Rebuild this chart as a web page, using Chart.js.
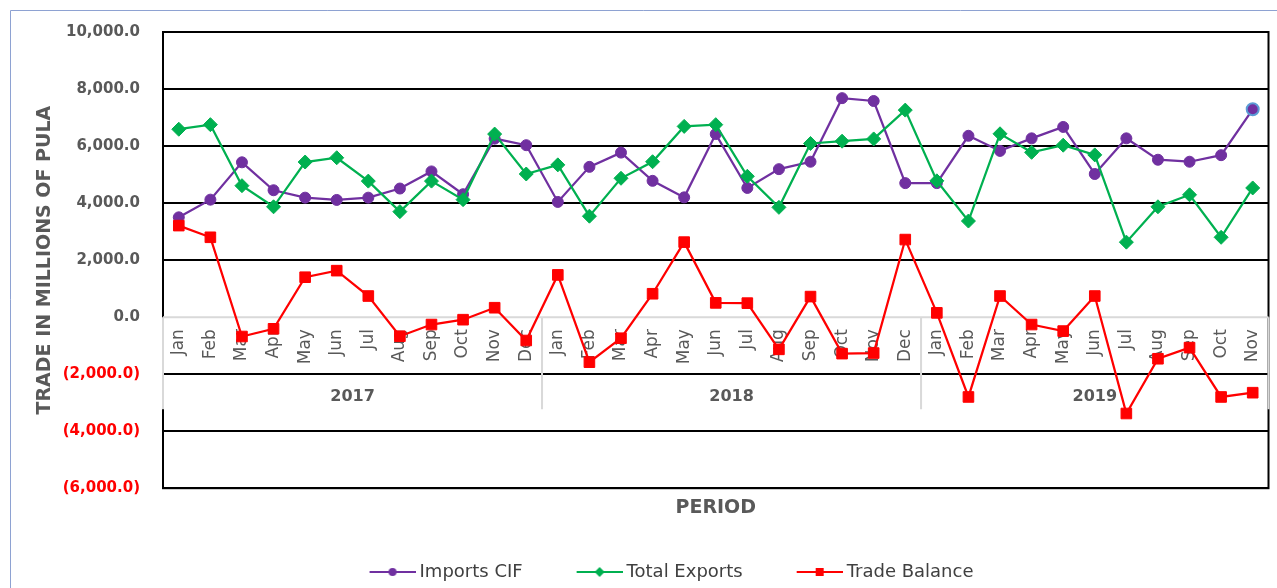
<!DOCTYPE html>
<html>
<head>
<meta charset="utf-8">
<script src="https://cdn.jsdelivr.net/npm/chart.js@4.4.1/dist/chart.umd.min.js"></script>
<style>
  body { margin: 0; background: #fff; }
  canvas { display: block; }
</style>
</head>
<body>
<canvas id="tradeChart" width="1277" height="588"></canvas>
<script>
// categories
const months = [
  "Jan", "Feb", "Mar", "Apr", "May", "Jun", "Jul", "Aug", "Sep", "Oct", "Nov", "Dec",
  "Jan", "Feb", "Mar", "Apr", "May", "Jun", "Jul", "Aug", "Sep", "Oct", "Nov", "Dec",
  "Jan", "Feb", "Mar", "Apr", "May", "Jun", "Jul", "Aug", "Sep", "Oct", "Nov",
];
const years = ["2017", "2018", "2019"];
const monthsPerYear = [12, 12, 11];

// series (millions of Pula)
const importsCIF = [
  3500, 4120, 5430, 4450, 4190, 4110, 4190, 4510, 5110, 4310, 6260, 6030,
  4040, 5270, 5770, 4780, 4200, 6420, 4530, 5190, 5450, 7680, 7580, 4700,
  4700, 6360, 5830, 6270, 6670, 5020, 6270, 5520, 5450, 5680, 7290,
];
const totalExports = [
  6590, 6750, 4610, 3870, 5440, 5590, 4770, 3700, 4770, 4120, 6420, 5020,
  5340, 3540, 4870, 5450, 6690, 6750, 4940, 3850, 6090, 6170, 6250, 7260,
  4780, 3370, 6430, 5780, 6030, 5690, 2630, 3870, 4290, 2800, 4530,
];
const tradeBalance = [
  3210, 2800, -680, -410, 1400, 1630, 740, -670, -260, -90, 330, -820,
  1480, -1580, -740, 820, 2630, 500, 490, -1130, 720, -1280, -1260, 2720,
  150, -2800, 740, -260, -490, 740, -3380, -1460, -1070, -2800, -2650,
];

// y axis ticks
const yTicks = [-6000, -4000, -2000, 0, 2000, 4000, 6000, 8000, 10000];

const FONT = "'DejaVu Sans', sans-serif";
const GREY = "#595959";

function formatPula(v) {
  const s = Math.abs(v).toLocaleString("en-US", {
    minimumFractionDigits: 1,
    maximumFractionDigits: 1,
  });
  return v < 0 ? "(" + s + ")" : s;
}

// little line+marker pictures for the legend
function legendIcon(color, shape) {
  const c = document.createElement("canvas");
  c.width = 95;
  c.height = 14;
  const g = c.getContext("2d");
  g.strokeStyle = color;
  g.fillStyle = color;
  g.lineWidth = 2;
  g.beginPath();
  g.moveTo(49, 7);
  g.lineTo(95, 7);
  g.stroke();
  const cx = 72, cy = 7;
  g.beginPath();
  if (shape === "circle") {
    g.arc(cx, cy, 4, 0, Math.PI * 2);
  } else if (shape === "diamond") {
    g.moveTo(cx, cy - 5);
    g.lineTo(cx + 5, cy);
    g.lineTo(cx, cy + 5);
    g.lineTo(cx - 5, cy);
    g.closePath();
  } else {
    g.rect(cx - 4, cy - 4, 8, 8);
  }
  g.fill();
  return c;
}
const legendIcons = [
  legendIcon("#7030A0", "circle"),
  legendIcon("#00B050", "diamond"),
  legendIcon("#FF0000", "square"),
];

// frame, plot border and the month/year label box
const framePlugin = {
  id: "frame",
  afterLayout(chart) {
    // excel puts the legend a bit right of the canvas centre
    chart.legend.left += 26;
  },
  beforeDraw(chart) {
    const ctx = chart.ctx;
    ctx.save();
    ctx.strokeStyle = "#8EA2D2";
    ctx.lineWidth = 1;
    ctx.beginPath();
    ctx.moveTo(10.5, chart.height);
    ctx.lineTo(10.5, 10.5);
    ctx.lineTo(chart.width, 10.5);
    ctx.stroke();
    ctx.restore();
  },
  beforeDatasetsDraw(chart) {
    const { ctx, chartArea: a, scales: { x, y } } = chart;
    const boxTop = y.getPixelForValue(0);
    const rowLine = y.getPixelForValue(-2000);
    const boxBottom = rowLine + 35;
    ctx.save();
    ctx.strokeStyle = "#000";
    ctx.lineWidth = 2;
    ctx.strokeRect(a.left, a.top, a.right - a.left, a.bottom - a.top);

    ctx.strokeStyle = "#D9D9D9";
    ctx.beginPath();
    ctx.moveTo(a.left, boxTop);
    ctx.lineTo(a.right, boxTop);
    ctx.moveTo(a.left, boxTop);
    ctx.lineTo(a.left, boxBottom);
    ctx.moveTo(a.right, boxTop);
    ctx.lineTo(a.right, boxBottom);
    let start = 0;
    const centers = [];
    monthsPerYear.forEach((n, i) => {
      const first = x.getPixelForValue(start);
      const last = x.getPixelForValue(start + n - 1);
      centers.push((first + last) / 2);
      if (i < monthsPerYear.length - 1) {
        const sep = (last + x.getPixelForValue(start + n)) / 2;
        ctx.moveTo(sep, boxTop);
        ctx.lineTo(sep, boxBottom);
      }
      start += n;
    });
    ctx.stroke();

    ctx.fillStyle = GREY;
    ctx.font = "bold 16px " + FONT;
    ctx.textAlign = "center";
    ctx.textBaseline = "middle";
    years.forEach((yr, i) => {
      ctx.fillText(yr, centers[i], rowLine + 23);
    });
    ctx.restore();
  },
};

const lastIdx = importsCIF.length - 1;

new Chart(document.getElementById("tradeChart"), {
  type: "line",
  data: {
    labels: months,
    datasets: [
      {
        label: "Imports CIF",
        data: importsCIF,
        borderColor: "#7030A0",
        backgroundColor: "#7030A0",
        borderWidth: 2.25,
        pointStyle: "circle",
        pointRadius: importsCIF.map((v, i) => (i === lastIdx ? 6 : 5.5)),
        pointBorderColor: importsCIF.map((v, i) => (i === lastIdx ? "#5B9BD5" : "#7030A0")),
        pointBorderWidth: importsCIF.map((v, i) => (i === lastIdx ? 2 : 1)),
        order: 3,
      },
      {
        label: "Total Exports",
        data: totalExports,
        borderColor: "#00B050",
        backgroundColor: "#00B050",
        borderWidth: 2.25,
        pointStyle: "rectRot",
        pointRadius: 7,
        pointBorderWidth: 1,
        order: 2,
      },
      {
        label: "Trade Balance",
        data: tradeBalance,
        borderColor: "#FF0000",
        backgroundColor: "#FF0000",
        borderWidth: 2.25,
        pointStyle: "rect",
        pointRadius: 7.5,
        pointBorderWidth: 1,
        order: 1,
      },
    ],
  },
  options: {
    responsive: false,
    animation: false,
    layout: {
      padding: { top: 30, left: 0, right: 4, bottom: -3 },
    },
    scales: {
      x: {
        type: "category",
        position: { y: 0 },
        offset: true,
        grid: { display: false, drawTicks: false },
        border: { display: false },
        ticks: {
          autoSkip: false,
          minRotation: 90,
          maxRotation: 90,
          padding: 12,
          color: GREY,
          font: { family: FONT, size: 17 },
        },
        afterFit(scale) {
          scale.height = 0;
          scale.paddingLeft = 0;
          scale.paddingRight = 0;
        },
      },
      y: {
        min: -6000,
        max: 10000,
        afterBuildTicks(scale) {
          scale.ticks = yTicks.map((v) => ({ value: v }));
        },
        grid: {
          drawTicks: false,
          lineWidth: 2,
          color: (c) => (c.tick && c.tick.value === 0 ? "rgba(0,0,0,0)" : "#000"),
        },
        border: { display: false },
        ticks: {
          padding: 23,
          callback: (v) => formatPula(v),
          color: (c) => (c.tick && c.tick.value < 0 ? "#FF0000" : GREY),
          font: { family: FONT, size: 15, weight: "bold" },
        },
        title: {
          display: true,
          text: "TRADE IN MILLIONS OF PULA",
          color: GREY,
          padding: { top: 34, bottom: 0 },
          font: { family: FONT, size: 19, weight: "bold" },
        },
        afterFit(scale) {
          scale.width = 163;
        },
      },
    },
    plugins: {
      title: {
        display: true,
        text: "PERIOD",
        position: "bottom",
        fullSize: false,
        weight: 500,
        color: GREY,
        padding: { top: 8, bottom: 34 },
        font: { family: FONT, size: 19, weight: "bold" },
      },
      legend: {
        position: "bottom",
        labels: {
          usePointStyle: true,
          pointStyleWidth: 85,
          padding: 10,
          color: "#404040",
          font: { family: FONT, size: 18 },
          sort: (a, b) => a.datasetIndex - b.datasetIndex,
          generateLabels(chart) {
            const items = Chart.defaults.plugins.legend.labels.generateLabels(chart);
            items.forEach((it) => {
              it.pointStyle = legendIcons[it.datasetIndex];
            });
            return items;
          },
        },
      },
      tooltip: { enabled: false },
    },
  },
  plugins: [framePlugin],
});
</script>
</body>
</html>
